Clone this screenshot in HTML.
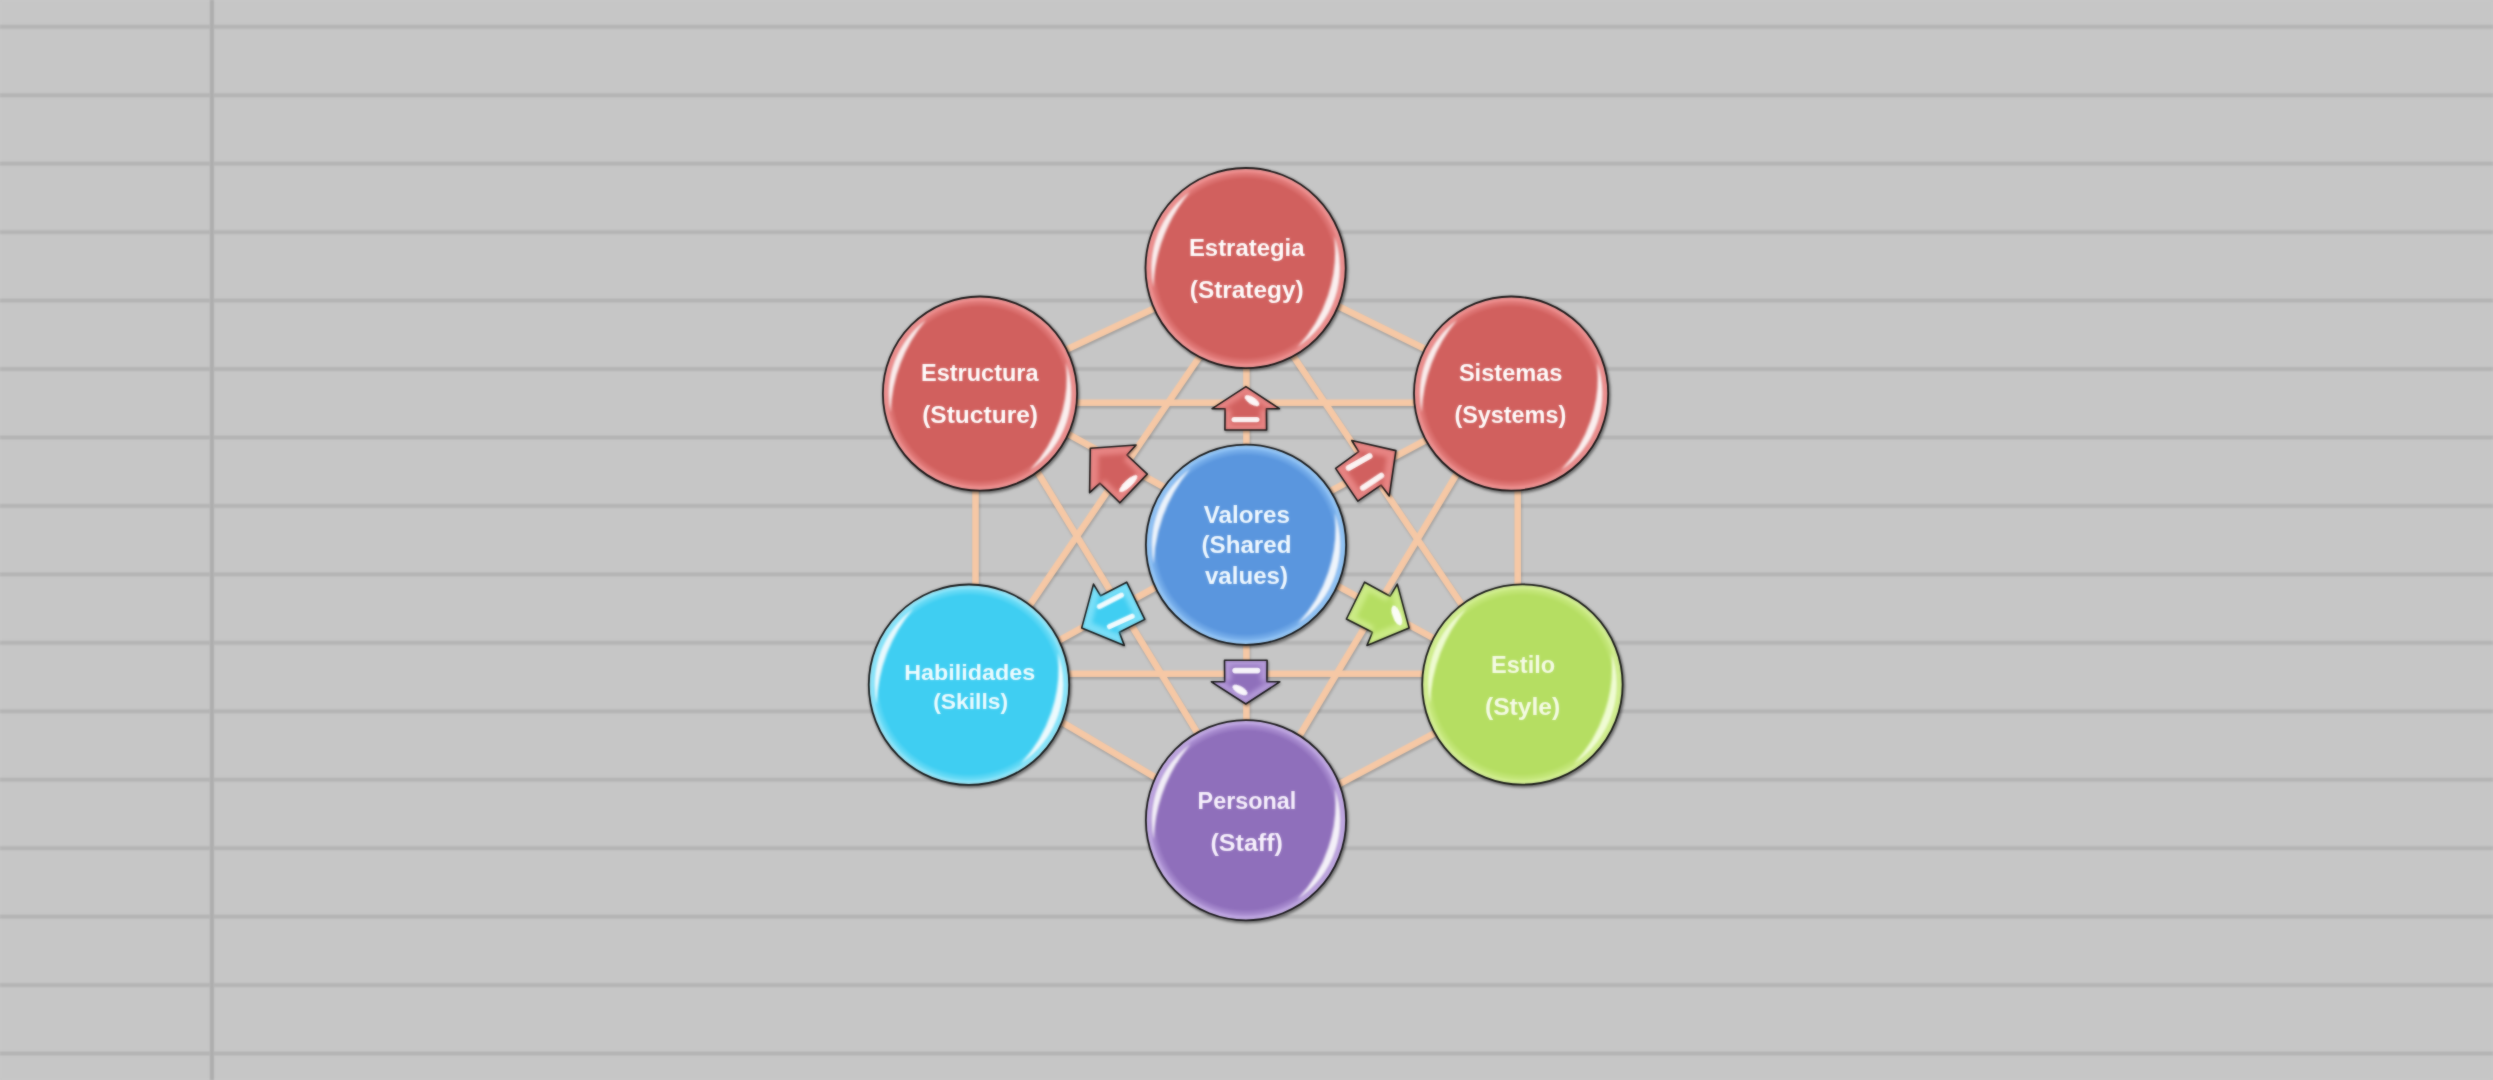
<!DOCTYPE html>
<html lang="es"><head><meta charset="utf-8"><title>Modelo 7S</title>
<style>
html,body{margin:0;padding:0;width:2493px;height:1080px;overflow:hidden;background:#c6c6c6}
#wrap{position:absolute;left:0;top:0;width:2493px;height:1080px;}
svg{position:absolute;left:0;top:0;display:block}
text{font-family:"Liberation Sans",sans-serif;font-weight:bold;text-anchor:middle}
.ln{stroke:#f6c8a5;stroke-width:6.6;fill:none;stroke-linecap:butt}
</style></head><body>
<div id="wrap"><svg width="2493" height="1080" viewBox="0 0 2493 1080">
<defs>
<filter id="b1" x="-20%" y="-20%" width="140%" height="140%"><feGaussianBlur stdDeviation="1.1"/></filter>
<filter id="b2" x="-20%" y="-20%" width="140%" height="140%"><feGaussianBlur stdDeviation="2"/></filter>
<filter id="b05" x="-20%" y="-20%" width="140%" height="140%"><feGaussianBlur stdDeviation="0.6"/></filter>
<filter id="soft" filterUnits="userSpaceOnUse" x="0" y="0" width="2493" height="1080" color-interpolation-filters="sRGB"><feGaussianBlur stdDeviation="1" result="b"/><feComposite operator="arithmetic" in="SourceGraphic" in2="b" k1="0" k2="0.45" k3="0.55" k4="0"/></filter>

<radialGradient id="g_red" cx="50%" cy="50%" r="50%"><stop offset="0" stop-color="#d1605e"/><stop offset="0.89" stop-color="#d1605e"/><stop offset="0.945" stop-color="#e17a79"/><stop offset="0.985" stop-color="#f59a9a"/><stop offset="1" stop-color="#f59a9a"/></radialGradient>
<radialGradient id="g_blue" cx="50%" cy="50%" r="50%"><stop offset="0" stop-color="#5a96de"/><stop offset="0.89" stop-color="#5a96de"/><stop offset="0.945" stop-color="#78afeb"/><stop offset="0.985" stop-color="#9ccdfb"/><stop offset="1" stop-color="#9ccdfb"/></radialGradient>
<radialGradient id="g_cyan" cx="50%" cy="50%" r="50%"><stop offset="0" stop-color="#3fcef2"/><stop offset="0.89" stop-color="#3fcef2"/><stop offset="0.945" stop-color="#69dbf6"/><stop offset="0.985" stop-color="#9deafc"/><stop offset="1" stop-color="#9deafc"/></radialGradient>
<radialGradient id="g_green" cx="50%" cy="50%" r="50%"><stop offset="0" stop-color="#b5de62"/><stop offset="0.89" stop-color="#b5de62"/><stop offset="0.945" stop-color="#c5e77b"/><stop offset="0.985" stop-color="#d8f39a"/><stop offset="1" stop-color="#d8f39a"/></radialGradient>
<radialGradient id="g_purple" cx="50%" cy="50%" r="50%"><stop offset="0" stop-color="#8f6fbb"/><stop offset="0.89" stop-color="#8f6fbb"/><stop offset="0.945" stop-color="#a98dd0"/><stop offset="0.985" stop-color="#c9b2ea"/><stop offset="1" stop-color="#c9b2ea"/></radialGradient>
</defs>
<g filter="url(#soft)">
<rect width="2493" height="1080" fill="#c6c6c6"/>
<rect x="0" y="24.30" width="2493" height="5" fill="#bebebe"/><rect x="0" y="25.25" width="2493" height="3.1" fill="#b4b4b4"/>
<rect x="0" y="92.75" width="2493" height="5" fill="#bebebe"/><rect x="0" y="93.70" width="2493" height="3.1" fill="#b4b4b4"/>
<rect x="0" y="161.19" width="2493" height="5" fill="#bebebe"/><rect x="0" y="162.14" width="2493" height="3.1" fill="#b4b4b4"/>
<rect x="0" y="229.64" width="2493" height="5" fill="#bebebe"/><rect x="0" y="230.59" width="2493" height="3.1" fill="#b4b4b4"/>
<rect x="0" y="298.09" width="2493" height="5" fill="#bebebe"/><rect x="0" y="299.04" width="2493" height="3.1" fill="#b4b4b4"/>
<rect x="0" y="366.54" width="2493" height="5" fill="#bebebe"/><rect x="0" y="367.49" width="2493" height="3.1" fill="#b4b4b4"/>
<rect x="0" y="434.98" width="2493" height="5" fill="#bebebe"/><rect x="0" y="435.93" width="2493" height="3.1" fill="#b4b4b4"/>
<rect x="0" y="503.43" width="2493" height="5" fill="#bebebe"/><rect x="0" y="504.38" width="2493" height="3.1" fill="#b4b4b4"/>
<rect x="0" y="571.88" width="2493" height="5" fill="#bebebe"/><rect x="0" y="572.83" width="2493" height="3.1" fill="#b4b4b4"/>
<rect x="0" y="640.32" width="2493" height="5" fill="#bebebe"/><rect x="0" y="641.27" width="2493" height="3.1" fill="#b4b4b4"/>
<rect x="0" y="708.77" width="2493" height="5" fill="#bebebe"/><rect x="0" y="709.72" width="2493" height="3.1" fill="#b4b4b4"/>
<rect x="0" y="777.22" width="2493" height="5" fill="#bebebe"/><rect x="0" y="778.17" width="2493" height="3.1" fill="#b4b4b4"/>
<rect x="0" y="845.66" width="2493" height="5" fill="#bebebe"/><rect x="0" y="846.61" width="2493" height="3.1" fill="#b4b4b4"/>
<rect x="0" y="914.11" width="2493" height="5" fill="#bebebe"/><rect x="0" y="915.06" width="2493" height="3.1" fill="#b4b4b4"/>
<rect x="0" y="982.56" width="2493" height="5" fill="#bebebe"/><rect x="0" y="983.51" width="2493" height="3.1" fill="#b4b4b4"/>
<rect x="0" y="1051.00" width="2493" height="5" fill="#bebebe"/><rect x="0" y="1051.95" width="2493" height="3.1" fill="#b4b4b4"/>
<rect x="209.5" y="0" width="4.8" height="1080" fill="#bababa"/><rect x="210.3" y="0" width="3.3" height="1080" fill="#adadad"/>
<g class="ln" style="stroke:#000;opacity:0.2" transform="translate(0.8,2)" filter="url(#b1)">
<line x1="1040.0" y1="362.1" x2="1180.0" y2="296.3"/>
<line x1="1310.0" y1="292.3" x2="1450.0" y2="361.3"/>
<line x1="975.5" y1="450.0" x2="975.5" y2="620.0"/>
<line x1="1517.7" y1="450.0" x2="1517.7" y2="620.0"/>
<line x1="1030.0" y1="703.2" x2="1190.0" y2="797.9"/>
<line x1="1465.0" y1="717.0" x2="1305.0" y2="802.3"/>
<line x1="1050.0" y1="402.8" x2="1440.0" y2="402.8"/>
<line x1="1040.0" y1="673.7" x2="1450.0" y2="673.7"/>
<line x1="1217.8" y1="330.0" x2="1005.9" y2="640.0"/>
<line x1="1275.6" y1="330.0" x2="1485.7" y2="640.0"/>
<line x1="1024.0" y1="450.0" x2="1214.0" y2="760.0"/>
<line x1="1471.1" y1="450.0" x2="1284.8" y2="760.0"/>
<line x1="1246.4" y1="340.0" x2="1246.4" y2="750.0"/>
<line x1="1040.0" y1="418.4" x2="1190.0" y2="501.5"/>
<line x1="1300.0" y1="507.3" x2="1455.0" y2="424.5"/>
<line x1="1030.0" y1="656.4" x2="1185.0" y2="571.0"/>
<line x1="1305.0" y1="568.1" x2="1465.0" y2="655.3"/>
</g>
<g class="ln">
<line x1="1040.0" y1="362.1" x2="1180.0" y2="296.3"/>
<line x1="1310.0" y1="292.3" x2="1450.0" y2="361.3"/>
<line x1="975.5" y1="450.0" x2="975.5" y2="620.0"/>
<line x1="1517.7" y1="450.0" x2="1517.7" y2="620.0"/>
<line x1="1030.0" y1="703.2" x2="1190.0" y2="797.9"/>
<line x1="1465.0" y1="717.0" x2="1305.0" y2="802.3"/>
<line x1="1050.0" y1="402.8" x2="1440.0" y2="402.8"/>
<line x1="1040.0" y1="673.7" x2="1450.0" y2="673.7"/>
<line x1="1217.8" y1="330.0" x2="1005.9" y2="640.0"/>
<line x1="1275.6" y1="330.0" x2="1485.7" y2="640.0"/>
<line x1="1024.0" y1="450.0" x2="1214.0" y2="760.0"/>
<line x1="1471.1" y1="450.0" x2="1284.8" y2="760.0"/>
<line x1="1246.4" y1="340.0" x2="1246.4" y2="750.0"/>
<line x1="1040.0" y1="418.4" x2="1190.0" y2="501.5"/>
<line x1="1300.0" y1="507.3" x2="1455.0" y2="424.5"/>
<line x1="1030.0" y1="656.4" x2="1185.0" y2="571.0"/>
<line x1="1305.0" y1="568.1" x2="1465.0" y2="655.3"/>
</g>
<polygon points="1245.9,385.6 1280.4,408.6 1267.4,408.6 1267.4,430.7 1224.1,430.7 1224.1,408.6 1211.1,408.6" fill="#000" opacity="0.3" transform="translate(1.2,1.8)" filter="url(#b1)"/>
<polygon points="1245.9,386.6 1279.4,408.7 1266.4,408.7 1266.6,430.0 1224.9,430.0 1225.1,408.7 1212.1,408.7" fill="#e78483" stroke="#101010" stroke-width="1.6" stroke-linejoin="round"/>
<polygon points="1245.9,394.4 1268.6,409.6 1260.0,409.6 1260.0,424.2 1231.5,424.2 1231.5,409.6 1222.9,409.6" fill="#d1605e" filter="url(#b2)"/>
<ellipse cx="1252" cy="400.7" rx="8.5" ry="3.75" transform="rotate(33 1252 400.7)" fill="#fff" opacity="0.95" filter="url(#b05)"/>
<rect x="1231.5" y="416.9" width="28" height="5.4" rx="2.7" transform="rotate(0 1245.5 419.6)" fill="#fff" opacity="0.93" filter="url(#b05)"/>
<polygon points="1089.6,447.5 1136.7,444.2 1127.5,454.2 1148.3,474.2 1120.0,503.8 1099.2,483.8 1088.8,493.3" fill="#000" opacity="0.3" transform="translate(1.2,1.8)" filter="url(#b1)"/>
<polygon points="1090.3,448.2 1136.1,445.0 1126.9,455.0 1147.3,474.1 1119.9,502.8 1100.0,483.2 1089.6,492.7" fill="#e78483" stroke="#101010" stroke-width="1.6" stroke-linejoin="round"/>
<polygon points="1098.5,455.7 1129.6,453.5 1123.5,460.1 1137.2,473.3 1118.5,492.8 1104.8,479.6 1098.0,485.9" fill="#d1605e" filter="url(#b2)"/>
<ellipse cx="1128.3" cy="483.6" rx="12.0" ry="3.75" transform="rotate(-43 1128.3 483.6)" fill="#fff" opacity="0.95" filter="url(#b05)"/>
<polygon points="1396.7,450.0 1390.0,496.7 1381.7,485.8 1357.5,502.1 1334.6,468.3 1358.3,450.8 1351.3,439.6" fill="#000" opacity="0.3" transform="translate(1.2,1.8)" filter="url(#b1)"/>
<polygon points="1395.9,450.6 1389.3,495.9 1381.0,485.1 1357.8,501.1 1335.6,468.4 1358.7,451.7 1351.8,440.5" fill="#e78483" stroke="#101010" stroke-width="1.6" stroke-linejoin="round"/>
<polygon points="1386.7,457.0 1382.2,487.8 1376.8,480.6 1360.8,491.3 1345.7,469.0 1361.3,457.5 1356.7,450.1" fill="#d1605e" filter="url(#b2)"/>
<rect x="1344.2" y="459.1" width="30" height="6" rx="3.0" transform="rotate(-29.6 1359.2 462.1)" fill="#fff" opacity="0.93" filter="url(#b05)"/>
<rect x="1358.0" y="478.7" width="28" height="6" rx="3.0" transform="rotate(-33.7 1372 481.7)" fill="#fff" opacity="0.93" filter="url(#b05)"/>
<polygon points="1080.8,628.3 1092.9,583.3 1100.0,595.0 1127.1,581.3 1145.8,619.6 1119.6,633.3 1124.6,646.3" fill="#000" opacity="0.3" transform="translate(1.2,1.8)" filter="url(#b1)"/>
<polygon points="1081.7,627.9 1093.5,584.1 1100.6,595.8 1126.7,582.2 1144.8,619.4 1119.3,632.3 1124.3,645.4" fill="#79dff8" stroke="#101010" stroke-width="1.6" stroke-linejoin="round"/>
<polygon points="1091.7,622.9 1099.7,593.2 1104.4,600.9 1122.3,591.9 1134.6,617.2 1117.3,626.2 1120.6,634.8" fill="#3fcef2" filter="url(#b2)"/>
<rect x="1095.4" y="598.2" width="30" height="5.2" rx="2.6" transform="rotate(-27.3 1110.4 600.8)" fill="#fff" opacity="0.93" filter="url(#b05)"/>
<rect x="1105.8" y="618.8" width="30" height="5.2" rx="2.6" transform="rotate(-24.4 1120.8 621.4)" fill="#fff" opacity="0.93" filter="url(#b05)"/>
<polygon points="1410.0,628.3 1366.7,646.3 1372.1,633.3 1345.4,619.2 1364.2,581.3 1390.8,595.4 1397.9,583.3" fill="#000" opacity="0.3" transform="translate(1.2,1.8)" filter="url(#b1)"/>
<polygon points="1409.1,627.9 1367.0,645.4 1372.4,632.3 1346.4,619.0 1364.6,582.2 1390.2,596.2 1397.3,584.1" fill="#cbeb85" stroke="#101010" stroke-width="1.6" stroke-linejoin="round"/>
<polygon points="1399.2,622.9 1370.6,634.8 1374.2,626.2 1356.5,616.9 1368.9,591.9 1386.5,601.2 1391.2,593.2" fill="#b5de62" filter="url(#b2)"/>
<ellipse cx="1396.8" cy="615.5" rx="10.5" ry="4.1" transform="rotate(69 1396.8 615.5)" fill="#fff" opacity="0.95" filter="url(#b05)"/>
<polygon points="1245.8,705.0 1210.4,681.9 1223.8,681.9 1223.8,659.6 1267.9,659.6 1267.9,681.9 1280.8,681.9" fill="#000" opacity="0.3" transform="translate(1.2,1.8)" filter="url(#b1)"/>
<polygon points="1245.8,704.0 1211.4,681.8 1224.7,681.8 1224.5,660.3 1267.1,660.3 1266.9,681.8 1279.8,681.8" fill="#b399d8" stroke="#101010" stroke-width="1.6" stroke-linejoin="round"/>
<polygon points="1245.8,696.1 1222.4,680.9 1231.2,680.9 1231.2,666.1 1260.4,666.1 1260.4,680.9 1268.9,680.9" fill="#8f6fbb" filter="url(#b2)"/>
<rect x="1232.3" y="667.8" width="28" height="5.6" rx="2.8" transform="rotate(0 1246.3 670.6)" fill="#fff" opacity="0.93" filter="url(#b05)"/>
<ellipse cx="1240" cy="690" rx="8.5" ry="3.75" transform="rotate(30 1240 690)" fill="#fff" opacity="0.95" filter="url(#b05)"/>
<circle cx="1246.8" cy="269.70000000000005" r="101.6" fill="#000" opacity="0.4" filter="url(#b1)"/>
<circle cx="1245.6" cy="268.1" r="100.1" fill="url(#g_red)" stroke="#101010" stroke-width="1.8"/>
<path d="M1153.2,287.7A94.5,94.5 0 0 1 1190.1,191.6A163.5,163.5 0 0 0 1153.2,287.7Z" fill="#fff" opacity="0.88" filter="url(#b1)"/>
<path d="M1334.4,235.8A94.5,94.5 0 0 1 1297.1,347.4A141.8,141.8 0 0 0 1334.4,235.8Z" fill="#fff" opacity="0.9" filter="url(#b1)"/>
<circle cx="981.2" cy="395.20000000000005" r="98.6" fill="#000" opacity="0.4" filter="url(#b1)"/>
<circle cx="980.0" cy="393.6" r="97.1" fill="url(#g_red)" stroke="#101010" stroke-width="1.8"/>
<path d="M890.5,412.6A91.5,91.5 0 0 1 926.2,319.6A158.3,158.3 0 0 0 890.5,412.6Z" fill="#fff" opacity="0.88" filter="url(#b1)"/>
<path d="M1066.0,362.3A91.5,91.5 0 0 1 1029.8,470.3A137.2,137.2 0 0 0 1066.0,362.3Z" fill="#fff" opacity="0.9" filter="url(#b1)"/>
<circle cx="1512.3" cy="395.20000000000005" r="98.6" fill="#000" opacity="0.4" filter="url(#b1)"/>
<circle cx="1511.1" cy="393.6" r="97.1" fill="url(#g_red)" stroke="#101010" stroke-width="1.8"/>
<path d="M1421.6,412.6A91.5,91.5 0 0 1 1457.3,319.6A158.3,158.3 0 0 0 1421.6,412.6Z" fill="#fff" opacity="0.88" filter="url(#b1)"/>
<path d="M1597.1,362.3A91.5,91.5 0 0 1 1560.9,470.3A137.2,137.2 0 0 0 1597.1,362.3Z" fill="#fff" opacity="0.9" filter="url(#b1)"/>
<circle cx="1247.2" cy="546.3000000000001" r="101.6" fill="#000" opacity="0.4" filter="url(#b1)"/>
<circle cx="1246.0" cy="544.7" r="100.1" fill="url(#g_blue)" stroke="#101010" stroke-width="1.8"/>
<path d="M1153.6,564.3A94.5,94.5 0 0 1 1190.5,468.2A163.5,163.5 0 0 0 1153.6,564.3Z" fill="#fff" opacity="0.88" filter="url(#b1)"/>
<path d="M1334.8,512.4A94.5,94.5 0 0 1 1297.5,624.0A141.8,141.8 0 0 0 1334.8,512.4Z" fill="#fff" opacity="0.9" filter="url(#b1)"/>
<circle cx="970.2" cy="686.3000000000001" r="101.69999999999999" fill="#000" opacity="0.4" filter="url(#b1)"/>
<circle cx="969.0" cy="684.7" r="100.19999999999999" fill="url(#g_cyan)" stroke="#101010" stroke-width="1.8"/>
<path d="M876.5,704.4A94.6,94.6 0 0 1 913.4,608.2A163.7,163.7 0 0 0 876.5,704.4Z" fill="#fff" opacity="0.88" filter="url(#b1)"/>
<path d="M1057.9,652.3A94.6,94.6 0 0 1 1020.5,764.0A141.9,141.9 0 0 0 1057.9,652.3Z" fill="#fff" opacity="0.9" filter="url(#b1)"/>
<circle cx="1523.6000000000001" cy="686.1" r="101.69999999999999" fill="#000" opacity="0.4" filter="url(#b1)"/>
<circle cx="1522.4" cy="684.5" r="100.19999999999999" fill="url(#g_green)" stroke="#101010" stroke-width="1.8"/>
<path d="M1429.9,704.2A94.6,94.6 0 0 1 1466.8,608.0A163.7,163.7 0 0 0 1429.9,704.2Z" fill="#f6ffe0" opacity="0.88" filter="url(#b1)"/>
<path d="M1611.3,652.1A94.6,94.6 0 0 1 1573.9,763.8A141.9,141.9 0 0 0 1611.3,652.1Z" fill="#f6ffe0" opacity="0.9" filter="url(#b1)"/>
<circle cx="1247.2" cy="821.8000000000001" r="101.6" fill="#000" opacity="0.4" filter="url(#b1)"/>
<circle cx="1246.0" cy="820.2" r="100.1" fill="url(#g_purple)" stroke="#101010" stroke-width="1.8"/>
<path d="M1153.6,839.8A94.5,94.5 0 0 1 1190.5,743.7A163.5,163.5 0 0 0 1153.6,839.8Z" fill="#fff" opacity="0.88" filter="url(#b1)"/>
<path d="M1334.8,787.9A94.5,94.5 0 0 1 1297.5,899.5A141.8,141.8 0 0 0 1334.8,787.9Z" fill="#fff" opacity="0.9" filter="url(#b1)"/>
<text font-size="24.4" fill="#ffffff" x="1246.7" y="256.2" textLength="115.6" lengthAdjust="spacingAndGlyphs">Estrategia</text>
<text font-size="24.4" fill="#ffffff" x="1246.7" y="297.8" textLength="113.8" lengthAdjust="spacingAndGlyphs">(Strategy)</text>
<text font-size="24.4" fill="#ffffff" x="979.8" y="380.6" textLength="117.4" lengthAdjust="spacingAndGlyphs">Estructura</text>
<text font-size="24.4" fill="#ffffff" x="980.1" y="422.8" textLength="115.8" lengthAdjust="spacingAndGlyphs">(Stucture)</text>
<text font-size="24.4" fill="#ffffff" x="1510.7" y="381" textLength="103.6" lengthAdjust="spacingAndGlyphs">Sistemas</text>
<text font-size="24.4" fill="#ffffff" x="1510.3" y="423" textLength="111.8" lengthAdjust="spacingAndGlyphs">(Systems)</text>
<text font-size="23.4" fill="#f2faff" x="1246.9" y="523.4" textLength="86.2" lengthAdjust="spacingAndGlyphs">Valores</text>
<text font-size="23.4" fill="#f2faff" x="1246.5" y="553.4" textLength="89.9" lengthAdjust="spacingAndGlyphs">(Shared</text>
<text font-size="23.4" fill="#f2faff" x="1246.5" y="583.9" textLength="83.1" lengthAdjust="spacingAndGlyphs">values)</text>
<text font-size="22.8" fill="#f0fcff" x="969.7" y="680.1" textLength="130.9" lengthAdjust="spacingAndGlyphs">Habilidades</text>
<text font-size="22.8" fill="#f0fcff" x="970.6" y="709" textLength="74.9" lengthAdjust="spacingAndGlyphs">(Skills)</text>
<text font-size="24.4" fill="#f5fbe6" x="1523.1" y="673.2" textLength="64.0" lengthAdjust="spacingAndGlyphs">Estilo</text>
<text font-size="24.4" fill="#f5fbe6" x="1522.6" y="715.4" textLength="75.3" lengthAdjust="spacingAndGlyphs">(Style)</text>
<text font-size="24.4" fill="#f8f2fd" x="1246.9" y="809.3" textLength="98.7" lengthAdjust="spacingAndGlyphs">Personal</text>
<text font-size="24.4" fill="#f8f2fd" x="1246.7" y="851.1" textLength="72.5" lengthAdjust="spacingAndGlyphs">(Staff)</text>
</g></svg></div></body></html>
